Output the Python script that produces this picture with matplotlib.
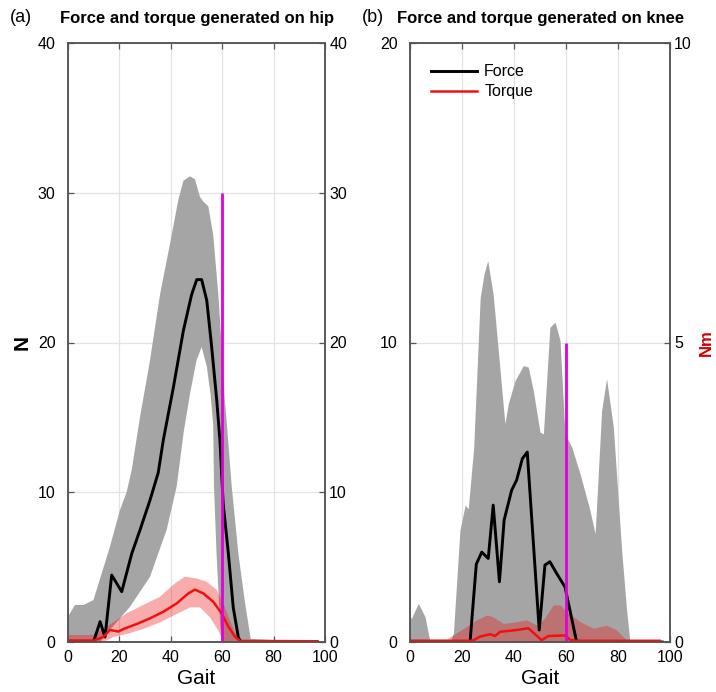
import matplotlib
matplotlib.use('Agg')
import matplotlib.pyplot as plt

plt.rcParams['font.family'] = ['Liberation Sans', 'DejaVu Sans']

# ---------------- data: hip (panel a) ----------------
hip_force_x = [0, 9.9, 12.5, 14.4, 17.0, 20.9, 24.8, 28.0, 31.9, 35.1, 37.1, 41.0, 44.9, 48.1,
               50.1, 52.0, 54.0, 55.9, 57.9, 59.1, 60.4, 62.4, 64.3, 66.3, 67.3, 97]
hip_force_y = [0, 0, 1.36, 0.33, 4.47, 3.36, 5.9, 7.47, 9.47, 11.3, 13.5, 17.0, 20.8, 23.2,
               24.2, 24.2, 22.8, 19.7, 16.1, 13.5, 9.2, 5.9, 2.3, 0.3, 0, 0]

hip_band_up_x = [0, 2.7, 6.0, 9.9, 16.3, 20.2, 22.8, 24.8, 28.0, 31.9, 35.8, 39.7, 42.9, 44.9,
                 47.5, 49.4, 51.4, 52.7, 54.6, 56.5, 58.5, 59.8, 61.0, 61.7, 63.7, 66.3, 68.9,
                 71.1, 97]
hip_band_up_y = [1.69, 2.47, 2.47, 2.8, 6.35, 8.8, 10.0, 11.5, 15.0, 18.8, 23.2, 26.6, 29.5, 30.8,
                 31.1, 30.9, 29.7, 29.4, 29.1, 27.2, 23.2, 19.7, 16.2, 14.8, 10.4, 5.9, 2.6,
                 0.2, 0]
hip_band_lo_x = [0, 12.5, 16.3, 24.1, 31.9, 38.4, 42.3, 45.0, 47.5, 50.0, 52.0, 54.0, 55.5,
                 56.5, 56.8, 57.8, 59.1, 59.8, 97]
hip_band_lo_y = [0, 0, 0.8, 2.35, 4.35, 7.5, 10.4, 14.0, 16.6, 18.8, 19.7, 18.4, 16.5,
                 14.5, 10.4, 5.9, 1.5, 0, 0]

hip_torque_x = [0, 9.9, 13.7, 16.3, 19.6, 22.2, 26.7, 31.9, 37.1, 42.3, 46.8, 49.4, 52.7, 56.5,
                59.8, 62.4, 65.0, 67.0, 97]
hip_torque_y = [0.1, 0.1, 0.33, 0.8, 0.7, 0.91, 1.2, 1.58, 2.02, 2.58, 3.24, 3.5, 3.24, 2.69,
                1.91, 1.02, 0.36, 0.07, 0.05]
hip_tband_up_x = [0, 9.9, 15.0, 22.8, 29.3, 35.8, 41.6, 45.5, 50.1, 54.0, 57.9, 60.4, 63.0,
                  65.6, 67.3, 97]
hip_tband_up_y = [0.47, 0.47, 1.02, 1.91, 2.47, 3.02, 3.91, 4.36, 4.24, 4.02, 3.47, 2.58, 1.47,
                  0.36, 0.05, 0.05]
hip_tband_lo_x = [0, 13.7, 17.6, 22.8, 29.3, 35.8, 42.3, 47.5, 51.4, 55.3, 58.5, 60.4, 97]
hip_tband_lo_y = [0, 0, 0.33, 0.53, 0.87, 1.31, 1.87, 2.31, 2.31, 1.64, 0.76, 0, 0]

hip_marker_x = 60
hip_marker_top = 30

# ---------------- data: knee (panel b) ----------------
knee_force_x = [0, 23.1, 25.5, 27.6, 30.1, 32.0, 34.4, 36.2, 39.1, 41.0, 43.2, 45.1, 49.7,
                51.9, 53.8, 56.4, 59.6, 64.1, 97]
knee_force_y = [0, 0, 2.6, 3.0, 2.79, 4.57, 2.01, 4.07, 5.07, 5.4, 6.12, 6.34, 0.4,
                2.57, 2.68, 2.29, 1.84, 0, 0]

knee_band_up_x = [0, 0.6, 3.2, 5.8, 7.7, 15.4, 16.7, 19.2, 21.2, 22.4, 24.5, 27.0, 28.5, 29.9,
                  32.0, 36.5, 37.8, 40.4, 43.6, 45.5, 47.4, 50.0, 51.3, 53.8, 55.8, 57.7, 59.6,
                  62.2, 65.4, 69.2, 71.2, 73.7, 75.6, 78.2, 81.4, 83.3, 84.6, 97]
knee_band_up_y = [0.8, 0.8, 1.29, 0.84, 0, 0, 0.3, 3.73, 4.57, 4.45, 6.5, 11.5, 12.3, 12.73,
                  11.6, 7.29, 7.96, 8.73, 9.23, 9.18, 8.4, 7.01, 6.95, 10.51, 10.68, 10.07, 6.95,
                  6.51, 5.62, 4.4, 3.62, 7.73, 8.79, 7.18, 3.07, 1.07, 0, 0]

knee_torque_x = [0, 23.0, 24.5, 26.9, 30.8, 32.7, 34.6, 41.0, 45.5, 48.1, 50.6, 53.2, 59.6,
                 61.5, 63.5, 96]
knee_torque_y = [0.02, 0.02, 0.03, 0.09, 0.13, 0.1, 0.17, 0.2, 0.23, 0.13, 0.03, 0.1, 0.11,
                 0.04, 0.02, 0.02]
knee_tband_up_x = [0, 14.0, 16.7, 21.8, 25.6, 29.5, 31.4, 35.9, 39.7, 44.9, 48.7, 51.3, 55.1,
                   57.7, 60.3, 65.4, 70.5, 75.6, 79.5, 83.3, 97]
knee_tband_up_y = [0.05, 0.05, 0.12, 0.26, 0.37, 0.45, 0.43, 0.31, 0.33, 0.37, 0.28, 0.37, 0.62,
                   0.62, 0.5, 0.34, 0.23, 0.28, 0.2, 0.03, 0.02]

knee_marker_x = 60
knee_marker_top = 10

gait_ticks = [0, 20, 40, 60, 80, 100]
hip_yticks = [0, 10, 20, 30, 40]
knee_yticks_left = [0, 10, 20]
knee_yticks_right = [0, 5, 10]

# ---------------- styles ----------------
GRAY = '#a5a5a5'
RED = '#ee1111'
MAG = '#e000e0'
SPINE = '#555555'
GRID = '#e3e3e3'
TICK_FS = 11.5

fig = plt.figure(figsize=(7.16, 6.92), dpi=100)
ax1 = fig.add_axes([68/716, 50/692, 257/716, 599/692])
ax2 = fig.add_axes([410/716, 50/692, 260/716, 599/692])


def band(ax, ux, uy, lx, ly, **kw):
    xs = list(ux) + list(lx)[::-1]
    ys = list(uy) + list(ly)[::-1]
    return ax.fill(xs, ys, **kw)


def style(ax, axr, left_ticks, right_ticks, ylim_l, ylim_r):
    ax.set_xlim(0, 100)
    ax.set_ylim(*ylim_l)
    axr.set_ylim(*ylim_r)
    ax.set_xticks(gait_ticks)
    ax.set_yticks(left_ticks)
    axr.set_yticks(right_ticks)
    ax.grid(True, color=GRID, linewidth=0.9)
    ax.set_axisbelow(True)
    ax.tick_params(axis='both', direction='in', length=4, width=0.9, color=SPINE,
                   labelsize=TICK_FS, top=True, right=False, pad=6)
    ax.tick_params(axis='y', pad=9)
    axr.tick_params(axis='y', direction='in', length=4, width=0.9, color=SPINE,
                    labelsize=TICK_FS, pad=3)
    for a in (ax, axr):
        for s in a.spines.values():
            s.set_color(SPINE)
            s.set_linewidth(1.1)
    ax.set_xlabel('Gait', fontsize=15, labelpad=3)


# ---- panel a ----
ax1r = ax1.twinx()
style(ax1, ax1r, hip_yticks, hip_yticks, (0, 40), (0, 40))
tr1 = ax1r.transData
band(ax1, hip_band_up_x, hip_band_up_y, hip_band_lo_x, hip_band_lo_y,
     color=GRAY, linewidth=0, zorder=2)
band(ax1, hip_tband_up_x, hip_tband_up_y, hip_tband_lo_x, hip_tband_lo_y,
     color=RED, alpha=0.35, linewidth=0, zorder=3, transform=tr1)
ax1.plot(hip_force_x, hip_force_y, color='black', linewidth=2.1, zorder=4)
ax1.plot(hip_torque_x, hip_torque_y, color=RED, linewidth=1.8, zorder=5, transform=tr1)
ax1.vlines(hip_marker_x, 0, hip_marker_top, color=MAG, linewidth=2.0, zorder=6)
ax1.set_ylabel('N', fontsize=15, fontweight='bold', labelpad=4)

# ---- panel b ----
ax2r = ax2.twinx()
style(ax2, ax2r, knee_yticks_left, knee_yticks_right, (0, 20), (0, 10))
tr2 = ax2r.transData
ax2.fill_between(knee_band_up_x, 0, knee_band_up_y, color=GRAY, linewidth=0, zorder=2)
ax2.fill_between(knee_tband_up_x, 0, knee_tband_up_y, color=RED, alpha=0.35, linewidth=0,
                 zorder=3, transform=tr2)
lf, = ax2.plot(knee_force_x, knee_force_y, color='black', linewidth=2.1, zorder=4)
lt, = ax2.plot(knee_torque_x, knee_torque_y, color=RED, linewidth=1.8, zorder=5, transform=tr2)
ax2.vlines(knee_marker_x, 0, knee_marker_top, color=MAG, linewidth=2.0, zorder=6)
ax2r.set_ylabel('Nm', fontsize=12, fontweight='bold', color='#cc0000', labelpad=5)
ax2.legend([lf, lt], ['Force', 'Torque'], loc='upper left', frameon=False, fontsize=11.5,
           handlelength=2.9, handletextpad=0.45, labelspacing=0.3, borderaxespad=0,
           bbox_to_anchor=(0.055, 0.975))

# ---- titles ----
fig.text(10/716, 1 - 18/692, '(a)', fontsize=13, va='center', ha='left')
fig.text(60/716, 1 - 18/692, 'Force and torque generated on hip', fontsize=12,
         fontweight='bold', va='center', ha='left')
fig.text(362/716, 1 - 18/692, '(b)', fontsize=13, va='center', ha='left')
fig.text(397/716, 1 - 18/692, 'Force and torque generated on knee', fontsize=12,
         fontweight='bold', va='center', ha='left')

fig.savefig('out.png', dpi=100)
